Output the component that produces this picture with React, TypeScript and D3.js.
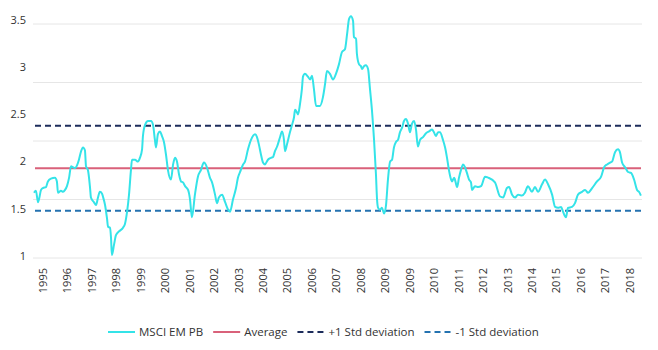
import React, { useEffect, useRef } from "react";
import * as d3 from "d3";

// MSCI EM price-to-book: [month index since Jan 1995, P/B]
const msciPB: [number, number][] = [
  [0,1.67],[0.9,1.69],[1.9,1.57],[3.3,1.70],[4.2,1.72],[5.6,1.73],[6.5,1.79],[7.9,1.82],[9.8,1.83],[10.7,1.79],[11.2,1.67],[12.6,1.69],[13.6,1.68],[14.5,1.70],[15.4,1.74],[16.4,1.83],[17.3,1.95],[18.2,1.94],[19.2,1.93],[20.1,1.96],[21.0,2.02],[22.0,2.11],[22.9,2.15],[23.8,2.12],[24.3,1.95],[25.2,1.91],[26.2,1.72],[26.6,1.62],[28.0,1.57],[29.0,1.54],[29.9,1.62],[30.8,1.68],[31.8,1.66],[32.2,1.63],[33.2,1.54],[34.1,1.40],[34.6,1.31],[35.5,1.30],[36.0,1.19],[36.4,1.01],[37.4,1.12],[38.3,1.22],[39.7,1.26],[41.6,1.30],[42.5,1.34],[43.5,1.47],[44.4,1.65],[45.3,1.91],[45.8,2.02],[47.2,2.02],[48.6,2.00],[49.5,2.04],[50.5,2.13],[50.9,2.27],[51.9,2.39],[53.3,2.43],[54.7,2.43],[55.6,2.39],[56.5,2.23],[57.0,2.15],[57.9,2.29],[58.9,2.32],[59.8,2.27],[60.7,2.21],[61.7,2.07],[62.6,1.91],[64.0,1.81],[65.0,1.97],[65.9,2.04],[66.8,2.00],[67.8,1.86],[68.7,1.79],[69.6,1.78],[70.6,1.74],[72.0,1.70],[72.9,1.60],[73.8,1.41],
  [75.2,1.65],[76.6,1.84],[78.0,1.91],[79.4,1.99],[80.8,1.94],[82.2,1.83],[83.2,1.78],[84.6,1.65],[85.5,1.56],[86.4,1.62],[87.9,1.65],[89.3,1.57],[90.7,1.49],[91.6,1.47],[93.0,1.60],[94.4,1.72],[95.3,1.83],[96.3,1.89],[97.7,1.97],[98.6,2.00],[100.0,2.13],[101.4,2.23],[103.3,2.29],[104.2,2.26],[105.1,2.18],[106.1,2.07],[107.0,1.99],[107.9,1.97],[109.3,2.02],[110.7,2.04],[111.7,2.05],[112.6,2.11],[113.6,2.16],[115.0,2.26],[115.9,2.32],[116.8,2.23],[117.3,2.11],[118.2,2.18],[119.6,2.31],[120.6,2.39],[121.5,2.47],[122.0,2.55],[122.9,2.52],[123.4,2.50],[124.3,2.61],[125.2,2.77],[125.7,2.90],[126.6,2.93],[128.0,2.90],[129.0,2.87],[129.9,2.91],[130.8,2.77],[131.8,2.59],[133.6,2.59],[135.0,2.68],[136.0,2.82],[136.9,2.96],[138.3,2.93],[139.7,2.87],[141.1,2.93],[142.5,3.03],[143.9,3.16],
  [145.3,3.19],[146.3,3.35],[147.2,3.51],[148.1,3.54],[149.1,3.49],[149.5,3.32],[150.5,3.30],[150.9,3.14],[151.9,3.03],[152.8,3.01],[153.3,2.98],[154.2,3.01],[155.1,3.02],[156.1,2.98],[157.0,2.77],[157.9,2.55],[158.9,2.23],[159.8,1.86],[160.3,1.60],[160.8,1.51],[161.7,1.49],[162.6,1.51],[163.6,1.45],[164.5,1.54],[165.4,1.81],[166.4,2.00],[167.3,2.02],[168.2,2.15],[169.2,2.21],[170.1,2.23],[171.0,2.31],[172.0,2.36],[172.9,2.43],[173.8,2.45],[174.8,2.40],[175.7,2.31],[176.6,2.40],[177.6,2.43],[178.5,2.34],[179.4,2.16],[180.4,2.23],[181.8,2.26],[183.2,2.30],[184.6,2.32],[186.0,2.34],[186.9,2.31],[187.8,2.27],[188.8,2.31],[189.7,2.31],[191.1,2.23],[192.1,2.15],[193.0,2.04],[193.9,1.91],[194.9,1.81],[195.3,1.79],[196.3,1.83],[196.7,1.81],[197.7,1.73],[198.6,1.83],[199.5,1.91],[200.5,1.97],[201.4,1.94],[202.3,1.88],[203.3,1.81],[204.2,1.78],[204.7,1.70],[206.1,1.74],[207.5,1.73],[208.9,1.74],[210.8,1.84],[212.2,1.83],
  [215.4,1.78],[217.8,1.63],[219.2,1.62],[221.0,1.72],[222.0,1.73],[223.4,1.65],[224.8,1.62],[226.2,1.65],[228.0,1.64],[229.4,1.67],[230.8,1.74],[232.7,1.68],[234.1,1.73],[235.5,1.68],[237.4,1.76],[238.8,1.81],[240.2,1.76],[242.1,1.65],[243.5,1.52],[244.9,1.51],[246.3,1.52],[247.2,1.47],[248.6,1.41],[249.5,1.51],[251.4,1.52],[252.8,1.56],[254.2,1.65],[256.1,1.68],[257.5,1.70],[258.9,1.67],[260.8,1.72],[263.1,1.79],[265.0,1.84],[266.4,1.94],[267.8,1.97],[269.2,1.99],[270.1,2.00],[271.5,2.10],[272.9,2.13],[273.8,2.10],[274.8,1.99],[276.2,1.94],[277.6,1.89],[279.0,1.88],[280.4,1.81],[281.8,1.70],[282.7,1.68],[283.6,1.64],
];

const average = 1.93;
const plusStd = 2.38;
const minusStd = 1.48;

const yTicks = [1, 1.5, 2, 2.5, 3, 3.5];
const xLabels = [
  "1995","1996","1997","1998","1999","2000","2001","2002","2003","2004","2005","2006",
  "2007","2008","2009","2009","2010","2011","2012","2013","2014","2015","2016","2017","2018",
];

const legendItems = [
  { label: "MSCI EM PB", color: "#34e3e8", dash: null },
  { label: "Average", color: "#d9617a", dash: null },
  { label: "+1 Std deviation", color: "#1c2c5b", dash: "6,4" },
  { label: "-1 Std deviation", color: "#2472b0", dash: "6,4" },
];

const W = 658;
const H = 350;
const FONT = "'Open Sans', 'Noto Sans', sans-serif";

export default function App() {
  const ref = useRef<SVGSVGElement | null>(null);

  useEffect(() => {
    const svg = d3.select(ref.current);
    svg.selectAll("*").remove();

    const x = d3.scaleLinear().domain([0, 284]).range([34, 34 + 284 * 2.14]);
    const y = d3.scaleLinear().domain([1, 3.5]).range([256, 20]);
    const grid = d3.scaleLinear().domain([0, 4]).range([258, 24]);
    const xl = d3.scalePoint<number>().domain(d3.range(xLabels.length)).range([43, 630]);

    // gridlines
    svg.append("g").selectAll("line").data(d3.range(5)).join("line")
      .attr("x1", 33).attr("x2", 642)
      .attr("y1", (d) => grid(d)).attr("y2", (d) => grid(d))
      .attr("stroke", "#e6e6e6").attr("stroke-width", 1);

    // y labels
    svg.append("g").selectAll("text").data(yTicks).join("text")
      .attr("x", 26).attr("y", (d) => y(d)).attr("dy", "0.35em")
      .attr("text-anchor", "end")
      .attr("font-family", FONT).attr("font-size", 11).attr("fill", "#333")
      .text((d) => String(d));

    // x labels
    svg.append("g").selectAll("text").data(xLabels).join("text")
      .attr("transform", (_d, i) => `translate(${xl(i)},268) rotate(-90)`)
      .attr("dy", "0.35em")
      .attr("text-anchor", "end")
      .attr("font-family", FONT).attr("font-size", 11).attr("fill", "#333")
      .text((d) => d);

    // reference lines
    const refs = [
      { v: average, color: legendItems[1].color, dash: null },
      { v: plusStd, color: legendItems[2].color, dash: legendItems[2].dash },
      { v: minusStd, color: legendItems[3].color, dash: legendItems[3].dash },
    ];
    svg.append("g").selectAll("line").data(refs).join("line")
      .attr("x1", 35).attr("x2", 641)
      .attr("y1", (d) => y(d.v)).attr("y2", (d) => y(d.v))
      .attr("stroke", (d) => d.color).attr("stroke-width", 2)
      .attr("stroke-dasharray", (d) => d.dash);

    // main line
    const line = d3.line<[number, number]>()
      .x((d) => x(d[0])).y((d) => y(d[1]))
      .curve(d3.curveMonotoneX);
    svg.append("path").datum(msciPB)
      .attr("d", line)
      .attr("fill", "none")
      .attr("stroke", legendItems[0].color)
      .attr("stroke-width", 2)
      .attr("stroke-linejoin", "round");

    // legend
    const lg = svg.append("g").attr("transform", "translate(108,332)");
    let cx = 0;
    legendItems.forEach((it) => {
      const g = lg.append("g").attr("transform", `translate(${cx},0)`);
      g.append("line").attr("x1", 0).attr("x2", 27).attr("y1", 0).attr("y2", 0)
        .attr("stroke", it.color).attr("stroke-width", 2)
        .attr("stroke-dasharray", it.dash);
      const t = g.append("text").attr("x", 31).attr("dy", "0.35em")
        .attr("font-family", FONT).attr("font-size", 11.5).attr("fill", "#333")
        .text(it.label);
      const w = (t.node() as SVGTextElement).getComputedTextLength();
      cx += 31 + w + 10;
    });
  }, []);

  return (
    <svg
      ref={ref}
      width={W}
      height={H}
      style={{ position: "absolute", left: 0, top: 0, background: "#fff" }}
    />
  );
}
